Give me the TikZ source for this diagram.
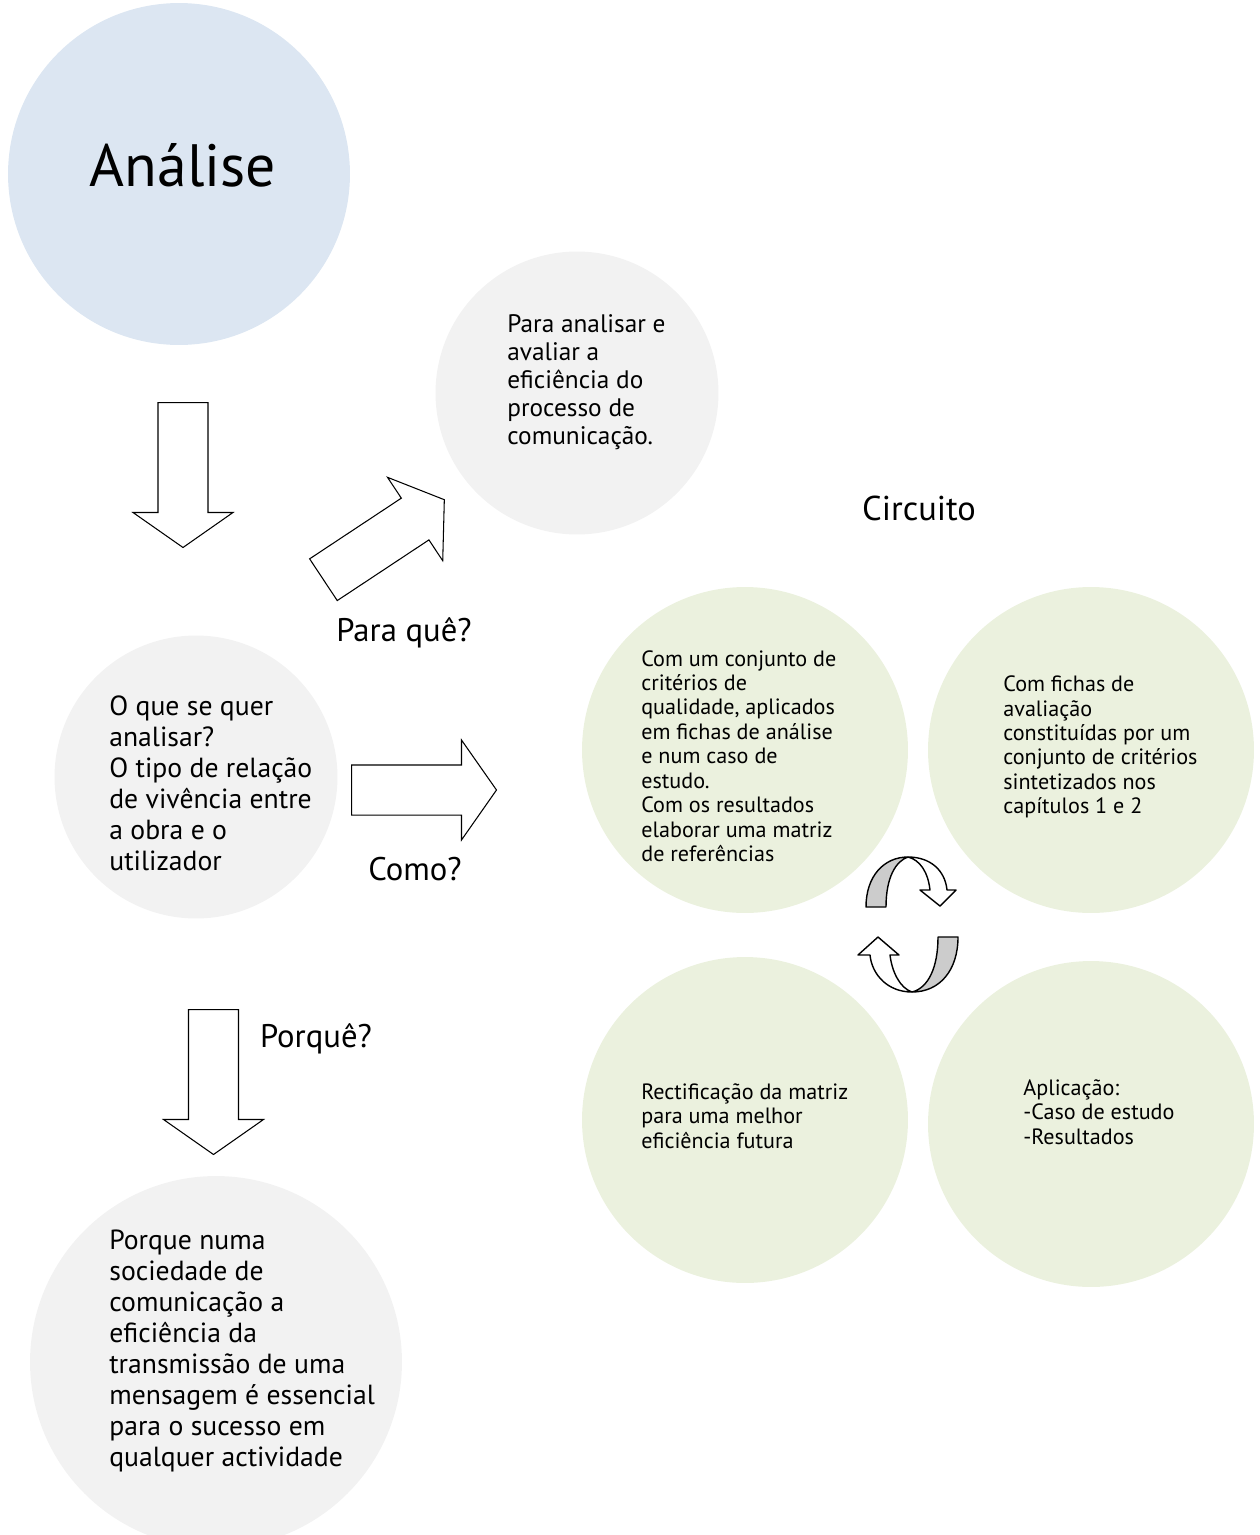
\documentclass[tikz,border=0pt]{standalone}
\usepackage{fontspec}
\setmainfont{PT Sans}
\usepackage{tikz}
\usetikzlibrary{shapes.arrows}
\definecolor{lblue}{HTML}{DCE6F2}
\definecolor{lgray}{HTML}{F2F2F2}
\definecolor{lgreen}{HTML}{EBF1DE}
\definecolor{dgray}{HTML}{CCCCCC}
\pgfdeclarelayer{circlelayer}
\pgfdeclarelayer{nodelayer}
\pgfsetlayers{circlelayer,nodelayer,main}
\tikzstyle{topic}=[circle,fill=lblue,draw=none,inner sep=0pt]
\tikzstyle{question}=[circle,fill=lgray,draw=none,inner sep=0pt]
\tikzstyle{stage}=[circle,fill=lgreen,draw=none,minimum size=6.52cm,inner sep=0pt]
\tikzstyle{blockarrow}=[single arrow,draw=black,fill=white,line width=0.6pt,minimum height=2.9cm,minimum width=1.98cm,inner xsep=0pt,inner ysep=0.49cm,single arrow head extend=0.5cm,single arrow tip angle=110,anchor=tail]
\tikzstyle{bodytext}=[inner sep=0pt,anchor=west,align=left,font=\fontsize{15.75}{17.6}\selectfont]
\tikzstyle{midtext}=[inner sep=0pt,anchor=west,align=left,font=\fontsize{14.4}{15.9}\selectfont]
\tikzstyle{smalltext}=[inner sep=0pt,anchor=west,align=left,font=\fontsize{12.6}{13.9}\selectfont]
\tikzstyle{asklabel}=[inner sep=0pt,font=\fontsize{18.6}{20}\selectfont]
\tikzstyle{cyclearrow}=[draw=black,line width=0.8pt,line join=round]

\begin{document}
\begin{tikzpicture}[x=0.02cm,y=-0.02cm]
	\useasboundingbox (0,0) rectangle (1259,1535);
	\begin{pgfonlayer}{circlelayer}
		\node [style=topic,minimum size=6.84cm] (analise) at (179,174) {};
		\node [style=question,minimum size=5.66cm] (para) at (577,393) {};
		\node [style=question,minimum size=5.66cm] (oque) at (196,777) {};
		\node [style=question,minimum size=7.44cm] (porque) at (216,1362) {};
		\node [style=stage] (criterios) at (745,750) {};
		\node [style=stage] (fichas) at (1091,750) {};
		\node [style=stage] (rectif) at (745,1120) {};
		\node [style=stage] (aplic) at (1091,1124) {};
	\end{pgfonlayer}
	\begin{pgfonlayer}{nodelayer}
		\node [inner sep=0pt,font=\fontsize{34}{40}\selectfont] (analisetxt) at (183,165) {Análise};
		\node [style=midtext] (paratxt) at (507,382) {Para analisar e\\avaliar a\\eficiência do\\processo de\\comunicação.};
		\node [style=bodytext] (oquetxt) at (109,783) {O que se quer\\analisar?\\O tipo de relação\\de vivência entre\\a obra e o\\utilizador};
		\node [style=bodytext] (porquetxt) at (109,1351) {Porque numa\\sociedade de\\comunicação a\\eficiência da\\transmissão de uma\\mensagem é essencial\\para o sucesso em\\qualquer actividade};
		\node [style=smalltext] (criteriostxt) at (641,756) {Com um conjunto de\\critérios de\\qualidade, aplicados\\em fichas de análise\\e num caso de\\estudo.\\Com os resultados\\elaborar uma matriz\\de referências};
		\node [style=smalltext] (fichastxt) at (1003,747) {Com fichas de\\avaliação\\constituídas por um\\conjunto de critérios\\sintetizados nos\\capítulos 1 e 2};
		\node [style=smalltext] (rectiftxt) at (641,1116) {Rectificação da matriz\\para uma melhor\\eficiência futura};
		\node [style=smalltext] (aplictxt) at (1023,1112) {Aplicação:\\-Caso de estudo\\-Resultados};

		\node [style=asklabel] (paraque) at (404,633) {Para quê?};
		\node [style=asklabel] (como) at (415,869) {Como?};
		\node [style=asklabel] (porquelbl) at (316,1039) {Porquê?};
		\node [style=asklabel,font=\fontsize{19.6}{21}\selectfont] (circuito) at (919,508) {Circuito};

		\node [style=blockarrow,rotate=-90] (down1) at (183,402) {};
		\node [style=blockarrow,rotate=33.5] (diag) at (323,580) {};
		\node [style=blockarrow] (right) at (351,790) {};
		\node [style=blockarrow,rotate=-90] (down2) at (213.5,1009) {};
	\end{pgfonlayer}
	% circuit arrows
	\draw [style=cyclearrow,fill=dgray] (866,907) -- (886,907) .. controls (886,877) and (896,861) .. (908,857) .. controls (884,857) and (866,876) .. (866,907) -- cycle;
	\draw [style=cyclearrow,fill=white] (908,857) .. controls (930,857) and (945,870) .. (947,890) -- (956,890) -- (940,906) -- (920,890) -- (930,890) .. controls (928,872) and (920,860) .. (908,857) -- cycle;
	\draw [style=cyclearrow,fill=dgray] (958,937) -- (938,937) .. controls (938,968) and (928,988) .. (912,992) .. controls (940,992) and (958,970) .. (958,937) -- cycle;
	\draw [style=cyclearrow,fill=white] (912,992) .. controls (888,992) and (872,975) .. (870,955) -- (858,955) -- (878,937) -- (899,955) -- (890,955) .. controls (892,972) and (900,988) .. (912,992) -- cycle;
\end{tikzpicture}
\end{document}
